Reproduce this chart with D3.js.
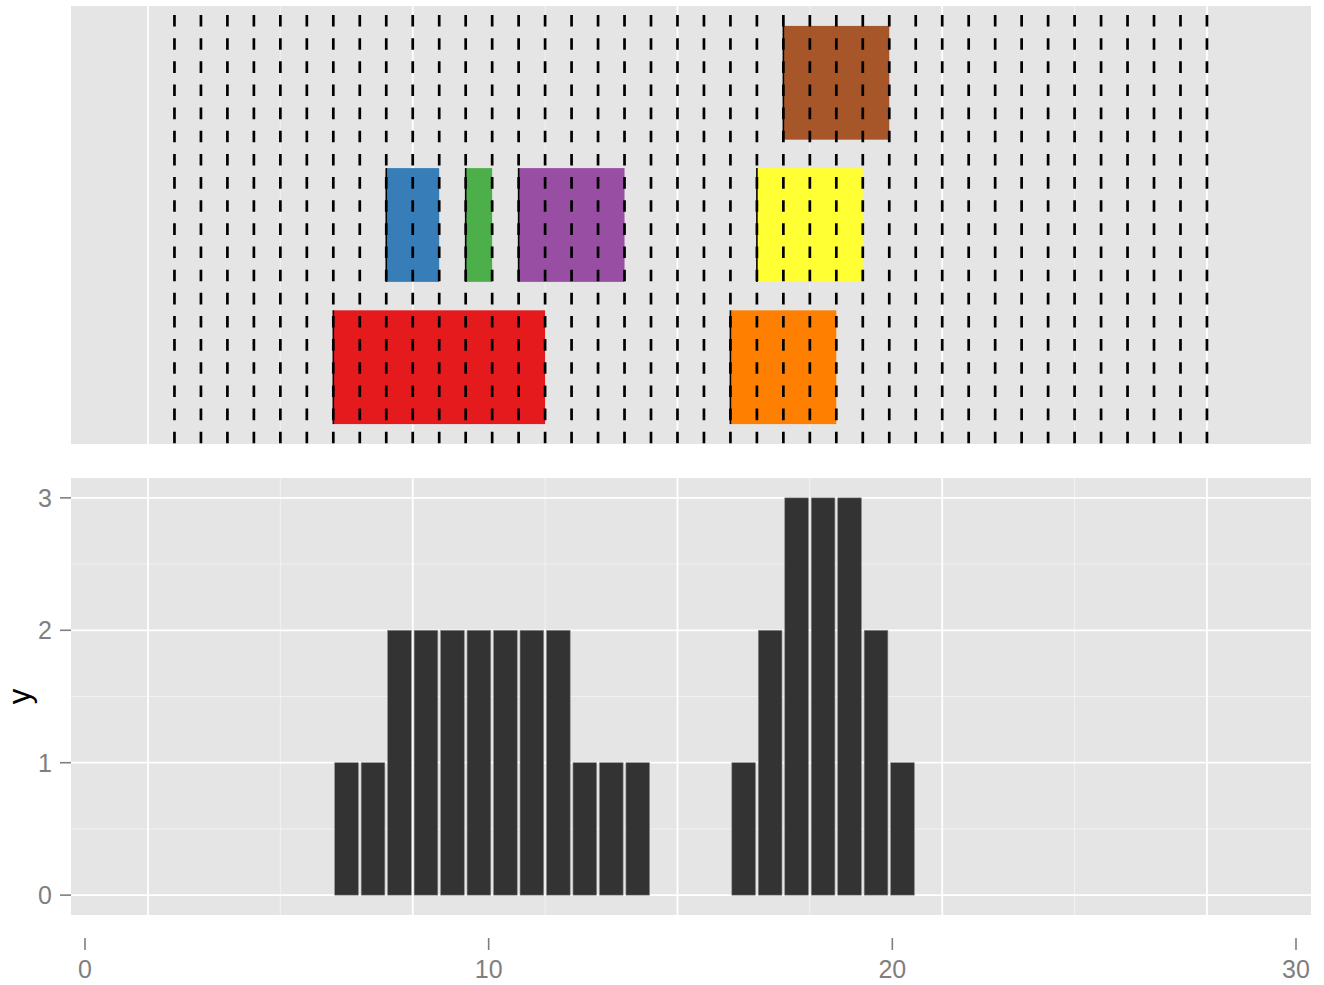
<!DOCTYPE html>
<html>
<head>
<meta charset="utf-8">
<script src="https://cdn.jsdelivr.net/npm/d3@7"></script>
<style>
  html, body { margin: 0; padding: 0; background: #ffffff; }
  svg { display: block; }
</style>
</head>
<body>
<svg id="chart" width="1324" height="985"></svg>
<script>
// ---------- data ----------
const rectXmin   = [7, 9, 12, 14, 22, 23, 24];
const rectXmax   = [15, 11, 13, 18, 26, 27, 28];
const rectRow    = [1, 2, 2, 2, 1, 2, 3];
const rectColors = ["#E41A1C", "#377EB8", "#4DAF4A", "#984EA3", "#FF7F00", "#FFFF33", "#A65628"];

const vlinePositions = [1, 2, 3, 4, 5, 6, 7, 8, 9, 10, 11, 12, 13, 14, 15, 16, 17, 18, 19, 20,
                        21, 22, 23, 24, 25, 26, 27, 28, 29, 30, 31, 32, 33, 34, 35, 36, 37, 38, 39, 40];

const barStart  = [7, 8, 9, 10, 11, 12, 13, 14, 15, 16, 17, 18, 22, 23, 24, 25, 26, 27, 28];
const barCount  = [1, 1, 2, 2, 2, 2, 2, 2, 2, 1, 1, 1, 1, 2, 3, 3, 3, 2, 1];

const panelMajorX = [0, 10, 20, 30, 40];
const panelMinorX = [5, 15, 25, 35];
const yTicks      = [0, 1, 2, 3];
const yMinor      = [0.5, 1.5, 2.5];
const axisTicks   = [0, 10, 20, 30];

// ---------- layout ----------
const svg = d3.select("#chart");
const L = 71, R = 1311;
const top1 = 6, bot1 = 444;
const top2 = 478, bot2 = 915;

const x = d3.scaleLinear().domain([-2.908, 43.93]).range([L, R]);
const y1 = d3.scaleLinear().domain([0.46, 3.54]).range([bot1, top1]);
const y2 = d3.scaleLinear().domain([-0.15, 3.15]).range([bot2, top2]);
const xAxisScale = d3.scaleLinear().domain([0, 30]).range([85, 1296]);

const bg = "#E5E5E5";
const tickGrey = "#7F7F7F";

svg.append("rect").attr("width", 1324).attr("height", 985).attr("fill", "#fff");

const defs = svg.append("defs");
defs.append("clipPath").attr("id", "clip1").append("rect")
  .attr("x", L).attr("y", top1).attr("width", R - L).attr("height", bot1 - top1);
defs.append("clipPath").attr("id", "clip2").append("rect")
  .attr("x", L).attr("y", top2).attr("width", R - L).attr("height", bot2 - top2);

// ---------- top panel ----------
const p1 = svg.append("g").attr("clip-path", "url(#clip1)");
p1.append("rect").attr("x", L).attr("y", top1).attr("width", R - L).attr("height", bot1 - top1).attr("fill", bg);
p1.selectAll("line.minor").data(panelMinorX).join("line")
  .attr("x1", d => x(d)).attr("x2", d => x(d)).attr("y1", top1).attr("y2", bot1)
  .attr("stroke", "#F2F2F2").attr("stroke-width", 1);
p1.selectAll("line.major").data(panelMajorX).join("line")
  .attr("x1", d => x(d)).attr("x2", d => x(d)).attr("y1", top1).attr("y2", bot1)
  .attr("stroke", "#FFFFFF").attr("stroke-width", 1.8);

const rects = rectXmin.map((d, i) => ({ xmin: d, xmax: rectXmax[i], row: rectRow[i], color: rectColors[i] }));
p1.selectAll("rect.iv").data(rects).join("rect")
  .attr("x", d => x(d.xmin)).attr("width", d => x(d.xmax) - x(d.xmin))
  .attr("y", d => y1(d.row + 0.4)).attr("height", d => y1(d.row - 0.4) - y1(d.row + 0.4))
  .attr("fill", d => d.color);
p1.selectAll("line.edge").data(rects).join("line")
  .attr("x1", d => x(d.xmin)).attr("x2", d => x(d.xmin))
  .attr("y1", d => y1(d.row + 0.4)).attr("y2", d => y1(d.row - 0.4))
  .attr("stroke", "#000").attr("stroke-width", 1.6);

p1.selectAll("line.dash").data(vlinePositions).join("line")
  .attr("x1", d => x(d)).attr("x2", d => x(d)).attr("y1", top1 + 9).attr("y2", bot1)
  .attr("stroke", "#000").attr("stroke-width", 2.7)
  .attr("stroke-dasharray", "11.6,11.55");

// ---------- bottom panel ----------
const p2 = svg.append("g").attr("clip-path", "url(#clip2)");
p2.append("rect").attr("x", L).attr("y", top2).attr("width", R - L).attr("height", bot2 - top2).attr("fill", bg);
p2.selectAll("line.minx").data(panelMinorX).join("line")
  .attr("x1", d => x(d)).attr("x2", d => x(d)).attr("y1", top2).attr("y2", bot2)
  .attr("stroke", "#F2F2F2").attr("stroke-width", 1);
p2.selectAll("line.miny").data(yMinor).join("line")
  .attr("x1", L).attr("x2", R).attr("y1", d => y2(d)).attr("y2", d => y2(d))
  .attr("stroke", "#F2F2F2").attr("stroke-width", 1);
p2.selectAll("line.majx").data(panelMajorX).join("line")
  .attr("x1", d => x(d)).attr("x2", d => x(d)).attr("y1", top2).attr("y2", bot2)
  .attr("stroke", "#FFFFFF").attr("stroke-width", 1.8);
p2.selectAll("line.majy").data(yTicks).join("line")
  .attr("x1", L).attr("x2", R).attr("y1", d => y2(d)).attr("y2", d => y2(d))
  .attr("stroke", "#FFFFFF").attr("stroke-width", 1.8);

const bars = barStart.map((d, i) => ({ x0: d, n: barCount[i] }));
p2.selectAll("rect.bar").data(bars).join("rect")
  .attr("x", d => x(d.x0) + 1.4).attr("width", d => x(d.x0 + 1) - x(d.x0) - 2.8)
  .attr("y", d => y2(d.n)).attr("height", d => y2(0) - y2(d.n))
  .attr("fill", "#333333").attr("stroke", "#8a8a8a").attr("stroke-width", 0.6);

// y axis (bottom panel)
const ya = svg.append("g");
ya.selectAll("line").data(yTicks).join("line")
  .attr("x1", 60).attr("x2", L).attr("y1", d => y2(d)).attr("y2", d => y2(d))
  .attr("stroke", tickGrey).attr("stroke-width", 1.6);
ya.selectAll("text").data(yTicks).join("text")
  .attr("x", 52).attr("y", d => y2(d)).attr("dy", "0.36em")
  .attr("text-anchor", "end")
  .attr("font-family", "'Liberation Sans', Arial, sans-serif").attr("font-size", 25)
  .attr("fill", tickGrey).text(d => d);
svg.append("text")
  .attr("transform", `translate(30,${(top2 + bot2) / 2}) rotate(-90)`)
  .attr("text-anchor", "middle")
  .attr("font-family", "'Liberation Sans', Arial, sans-serif").attr("font-size", 31)
  .attr("fill", "#000").text("y");

// separate bottom x axis
const xa = svg.append("g");
xa.selectAll("line").data(axisTicks).join("line")
  .attr("x1", d => xAxisScale(d)).attr("x2", d => xAxisScale(d)).attr("y1", 938).attr("y2", 950)
  .attr("stroke", tickGrey).attr("stroke-width", 1.6);
xa.selectAll("text").data(axisTicks).join("text")
  .attr("x", d => xAxisScale(d)).attr("y", 978)
  .attr("text-anchor", "middle")
  .attr("font-family", "'Liberation Sans', Arial, sans-serif").attr("font-size", 25)
  .attr("fill", tickGrey).text(d => d);
</script>
</body>
</html>
